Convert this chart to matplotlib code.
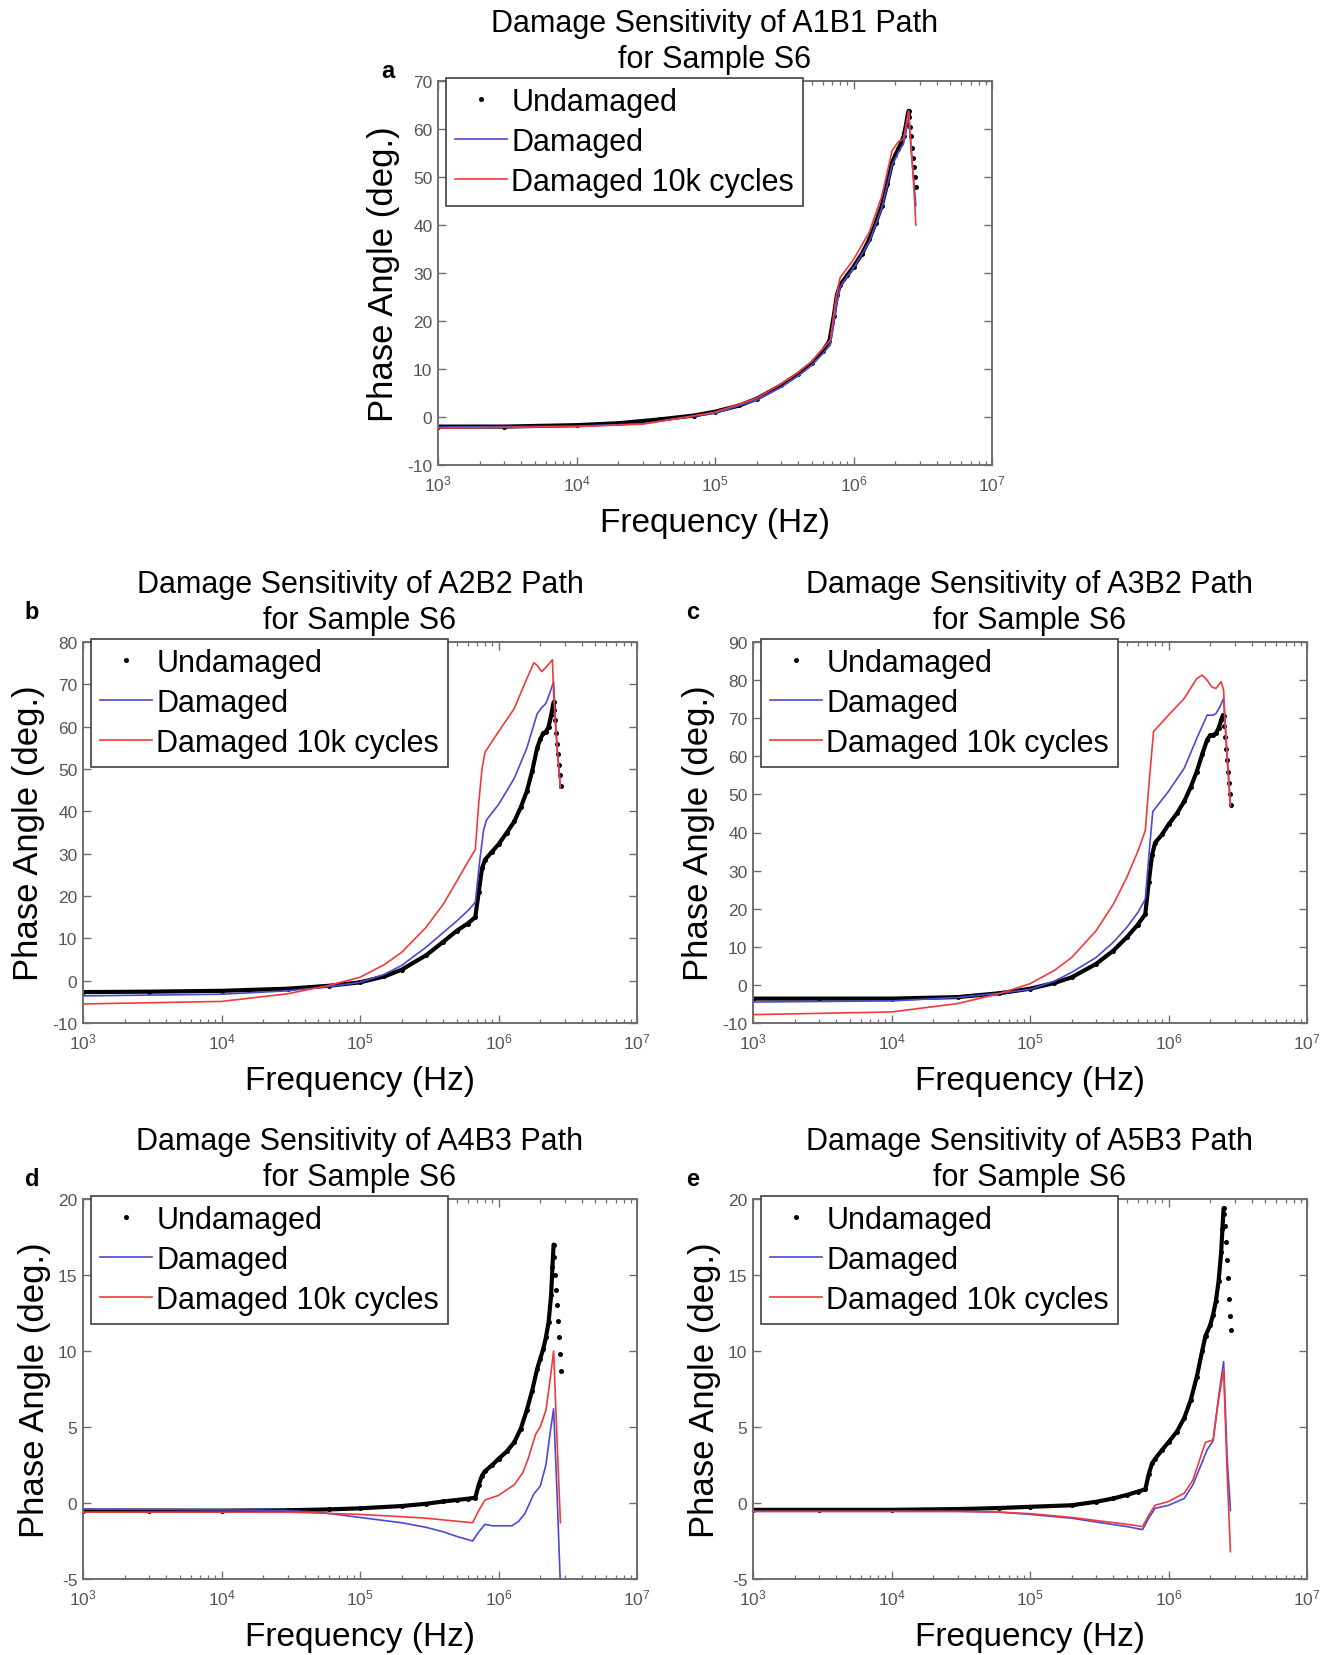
import numpy as np
import matplotlib
matplotlib.use('Agg')
import matplotlib.pyplot as plt
from matplotlib.ticker import LogLocator, MultipleLocator, NullFormatter

plt.rcParams['font.family'] = ['Liberation Sans', 'DejaVu Sans']
plt.rcParams['mathtext.fontset'] = 'custom'
plt.rcParams['mathtext.rm'] = 'Liberation Sans'
plt.rcParams['mathtext.default'] = 'regular'
plt.rcParams['axes.unicode_minus'] = False

# ---------------- data ----------------
# Panel a : A1B1
a_f_und = [1e3, 3e3, 1e4, 2e4, 4e4, 7e4, 1e5, 1.5e5, 2e5, 3e5, 4e5, 5e5, 6e5, 6.7e5, 7.2e5,
           7.6e5, 8e5, 9e5, 1e6, 1.15e6, 1.3e6, 1.45e6, 1.6e6, 1.75e6, 1.9e6, 2.0e6, 2.1e6,
           2.2e6, 2.3e6, 2.4e6, 2.47e6, 2.5e6, 2.53e6, 2.57e6, 2.61e6, 2.65e6, 2.69e6, 2.73e6,
           2.77e6, 2.81e6]
a_p_und = [-2.0, -2.0, -1.7, -1.3, -0.5, 0.3, 1.1, 2.4, 3.8, 6.6, 9.0, 11.2, 13.8, 15.8, 21.0,
           25.5, 27.5, 29.5, 31.3, 34.0, 37.0, 40.5, 44.0, 48.5, 53.0, 54.5, 55.8,
           57.0, 58.5, 61.0, 63.2, 63.8, 62.5, 60.5, 58.5, 56.0, 54.0, 52.0, 50.0, 48.0]
a_f_dam = [1e3, 1e4, 3e4, 1e5, 2e5, 3e5, 4e5, 5e5, 6e5, 6.8e5, 7.5e5, 8e5, 9e5, 1e6, 1.3e6,
           1.6e6, 1.9e6, 2.1e6, 2.3e6, 2.4e6, 2.5e6, 2.6e6, 2.7e6, 2.82e6]
a_p_dam = [-2.1, -1.9, -1.4, 0.8, 3.5, 6.2, 8.6, 10.8, 13.2, 15.0, 23.0, 27.0, 29.3, 31.0, 36.5,
           43.5, 52.5, 55.0, 57.0, 60.0, 63.5, 56.0, 50.5, 44.0]
a_f_10k = [1e3, 1e4, 3e4, 1e5, 2e5, 3e5, 4e5, 5e5, 6e5, 6.8e5, 7.5e5, 8e5, 9e5, 1e6, 1.3e6,
           1.6e6, 1.9e6, 2.1e6, 2.3e6, 2.4e6, 2.5e6, 2.6e6, 2.7e6, 2.82e6]
a_p_10k = [-2.3, -2.0, -1.5, 1.0, 3.9, 6.9, 9.3, 11.6, 14.2, 16.0, 25.0, 29.0, 31.0, 32.8, 38.5,
           46.0, 55.5, 57.3, 58.0, 61.0, 63.8, 57.0, 50.0, 40.0]

# Panel b : A2B2
b_f_und = [1e3, 3e3, 1e4, 3e4, 6e4, 1e5, 1.5e5, 2e5, 3e5, 4e5, 5e5, 6e5, 6.8e5, 7.2e5, 7.6e5,
           8e5, 9e5, 1e6, 1.15e6, 1.3e6, 1.45e6, 1.6e6, 1.75e6, 1.9e6, 2.0e6, 2.1e6, 2.2e6,
           2.3e6, 2.4e6, 2.47e6, 2.5e6, 2.53e6, 2.57e6, 2.61e6, 2.65e6, 2.69e6, 2.73e6,
           2.77e6, 2.81e6]
b_p_und = [-2.7, -2.6, -2.4, -1.9, -1.2, -0.4, 1.0, 2.6, 6.0, 9.2, 11.8, 13.5, 15.0, 21.0, 26.5,
           28.6, 30.5, 32.2, 35.0, 37.6, 41.0, 44.7, 49.5, 54.9, 57.0, 58.4, 58.8,
           60.0, 62.7, 65.0, 65.8, 64.0, 61.5, 58.5, 56.0, 53.5, 51.0, 48.5, 46.0]
b_f_dam = [1e3, 1e4, 3e4, 6e4, 1e5, 1.5e5, 2e5, 3e5, 4e5, 5e5, 6e5, 6.8e5, 7.3e5, 7.8e5, 8.2e5,
           1e6, 1.3e6, 1.6e6, 1.9e6, 2.05e6, 2.2e6, 2.35e6, 2.5e6, 2.56e6, 2.65e6, 2.8e6]
b_p_dam = [-3.6, -3.2, -2.4, -1.4, -0.4, 1.5, 3.6, 7.9, 11.4, 14.1, 16.5, 18.5, 28.0, 35.5, 38.0,
           41.6, 47.8, 54.9, 63.0, 64.5, 65.5, 68.0, 70.6, 63.0, 55.0, 45.5]
b_f_10k = [1e3, 1e4, 3e4, 6e4, 1e5, 1.5e5, 2e5, 3e5, 4e5, 5e5, 6e5, 6.8e5, 7.2e5, 7.6e5, 8e5,
           1e6, 1.3e6, 1.6e6, 1.8e6, 1.9e6, 2.05e6, 2.2e6, 2.45e6, 2.5e6, 2.55e6, 2.65e6, 2.8e6]
b_p_10k = [-5.5, -4.9, -3.1, -1.1, 0.8, 3.8, 6.7, 12.6, 18.1, 23.5, 28.0, 31.0, 42.0, 50.0, 54.0,
           58.8, 64.3, 71.3, 75.1, 74.5, 73.0, 74.0, 75.8, 68.0, 63.0, 55.0, 45.5]

# Panel c : A3B2
c_f_und = [1e3, 3e3, 1e4, 3e4, 6e4, 1e5, 1.5e5, 2e5, 3e5, 4e5, 5e5, 6e5, 6.8e5, 7.2e5, 7.6e5,
           8e5, 9e5, 1e6, 1.15e6, 1.3e6, 1.45e6, 1.6e6, 1.75e6, 1.9e6, 2.0e6, 2.1e6, 2.2e6,
           2.3e6, 2.4e6, 2.47e6, 2.5e6, 2.53e6, 2.57e6, 2.61e6, 2.65e6, 2.69e6, 2.73e6,
           2.77e6, 2.81e6]
c_p_und = [-3.6, -3.6, -3.6, -3.2, -2.2, -1.0, 0.5, 2.0, 5.5, 9.0, 12.5, 15.8, 18.6, 27.0, 34.0,
           37.3, 39.5, 42.1, 45.0, 48.2, 52.0, 56.0, 60.5, 64.3, 65.5, 65.6, 66.0,
           67.4, 69.5, 70.8, 70.5, 68.0, 65.0, 62.0, 59.0, 56.0, 53.0, 50.0, 47.3]
c_f_dam = [1e3, 1e4, 3e4, 6e4, 1e5, 1.5e5, 2e5, 3e5, 4e5, 5e5, 6e5, 6.8e5, 7.3e5, 7.7e5, 1e6,
           1.3e6, 1.6e6, 1.9e6, 2.1e6, 2.2e6, 2.35e6, 2.5e6, 2.55e6, 2.65e6, 2.8e6]
c_p_dam = [-4.5, -4.2, -3.3, -2.2, -1.2, 1.0, 3.3, 7.2, 11.2, 15.1, 19.0, 22.5, 36.0, 45.5, 50.8,
           56.9, 64.7, 70.8, 70.8, 71.2, 73.0, 75.2, 70.0, 60.0, 47.0]
c_f_10k = [1e3, 1e4, 3e4, 6e4, 1e5, 1.5e5, 2e5, 3e5, 4e5, 5e5, 6e5, 6.8e5, 7.2e5, 7.8e5, 1e6,
           1.3e6, 1.6e6, 1.75e6, 1.9e6, 2.05e6, 2.2e6, 2.4e6, 2.5e6, 2.55e6, 2.65e6, 2.8e6]
c_p_10k = [-7.8, -7.1, -4.9, -2.3, 0.3, 3.8, 7.2, 14.2, 21.2, 28.2, 35.0, 40.5, 52.0, 66.5, 70.8,
           75.2, 80.4, 81.3, 80.0, 78.2, 77.8, 79.6, 77.4, 70.0, 60.0, 47.0]

# Panel d : A4B3
d_f_und = [1e3, 3e3, 1e4, 3e4, 6e4, 1e5, 2e5, 3e5, 4e5, 5e5, 6e5, 6.8e5, 7.2e5, 7.6e5, 8e5,
           9e5, 1e6, 1.15e6, 1.3e6, 1.45e6, 1.6e6, 1.75e6, 1.9e6, 2.0e6, 2.1e6, 2.2e6, 2.3e6,
           2.4e6, 2.45e6, 2.5e6, 2.53e6, 2.57e6, 2.61e6, 2.65e6, 2.69e6, 2.73e6, 2.77e6, 2.81e6]
d_p_und = [-0.5, -0.5, -0.5, -0.48, -0.42, -0.35, -0.2, -0.05, 0.1, 0.2, 0.28, 0.35, 1.2, 1.8, 2.1,
           2.5, 2.9, 3.4, 4.0, 4.9, 6.1, 7.4, 8.8, 9.5, 10.1, 10.9, 11.9,
           13.7, 15.5, 17.0, 16.2, 15.0, 14.0, 13.0, 12.0, 10.9, 9.8, 8.7]
d_f_dam = [1e3, 1e4, 3e4, 5e4, 1e5, 2e5, 3e5, 4e5, 5e5, 6.5e5, 7.2e5, 8e5, 9e5, 1.25e6, 1.4e6,
           1.55e6, 1.8e6, 2.0e6, 2.2e6, 2.35e6, 2.5e6, 2.65e6, 2.8e6]
d_p_dam = [-0.4, -0.45, -0.5, -0.6, -0.95, -1.3, -1.6, -1.9, -2.2, -2.5, -1.9, -1.4, -1.5, -1.5, -1.2,
           -0.7, 0.6, 1.1, 2.5, 4.5, 6.2, 0.5, -5.5]
d_f_10k = [1e3, 1e4, 3e4, 1e5, 2e5, 3e5, 5e5, 6.5e5, 7.2e5, 8e5, 1e6, 1.3e6, 1.5e6, 1.65e6, 1.85e6,
           2.0e6, 2.2e6, 2.35e6, 2.5e6, 2.65e6, 2.8e6]
d_p_10k = [-0.6, -0.6, -0.6, -0.75, -0.9, -1.0, -1.2, -1.3, -0.5, 0.2, 0.5, 1.2, 2.0, 3.0, 4.5,
           5.0, 6.1, 8.0, 10.0, 4.0, -1.3]

# Panel e : A5B3
e_f_und = [1e3, 3e3, 1e4, 3e4, 6e4, 1e5, 2e5, 3e5, 4e5, 5e5, 6e5, 6.8e5, 7.2e5, 7.6e5, 8e5,
           9e5, 1e6, 1.15e6, 1.3e6, 1.45e6, 1.6e6, 1.75e6, 1.85e6, 2.0e6, 2.1e6, 2.2e6, 2.3e6,
           2.4e6, 2.45e6, 2.5e6, 2.53e6, 2.57e6, 2.61e6, 2.65e6, 2.69e6, 2.73e6, 2.77e6, 2.81e6]
e_p_und = [-0.45, -0.45, -0.45, -0.4, -0.33, -0.25, -0.15, 0.08, 0.3, 0.53, 0.75, 0.9, 1.9, 2.6, 2.9,
           3.5, 4.0, 4.7, 5.6, 6.8, 8.3, 10.0, 11.0, 11.7, 12.4, 13.3, 14.6,
           16.5, 18.0, 19.4, 19.0, 18.2, 17.2, 16.0, 14.8, 13.4, 12.3, 11.4]
e_f_dam = [1e3, 1e4, 3e4, 6e4, 1e5, 2e5, 3e5, 5e5, 6.5e5, 7.2e5, 8e5, 1e6, 1.3e6, 1.5e6, 1.7e6,
           1.9e6, 2.1e6, 2.3e6, 2.5e6, 2.65e6, 2.8e6]
e_p_dam = [-0.55, -0.55, -0.55, -0.6, -0.75, -1.0, -1.25, -1.55, -1.75, -1.0, -0.35, -0.15, 0.3, 1.2, 2.4,
           3.5, 4.1, 7.0, 9.3, 3.0, -0.5]
e_f_10k = [1e3, 1e4, 3e4, 6e4, 1e5, 2e5, 3e5, 5e5, 6.5e5, 7.2e5, 8e5, 1e6, 1.3e6, 1.5e6, 1.7e6,
           1.85e6, 2.1e6, 2.3e6, 2.5e6, 2.65e6, 2.8e6]
e_p_10k = [-0.55, -0.55, -0.55, -0.6, -0.7, -0.95, -1.15, -1.4, -1.55, -0.8, -0.15, 0.1, 0.65, 1.5, 3.0,
           4.0, 4.15, 6.8, 8.8, 2.0, -3.2]

panel_letters = ['a', 'b', 'c', 'd', 'e']
panel_paths = ['A1B1', 'A2B2', 'A3B2', 'A4B3', 'A5B3']
panel_ylims = [(-10, 70), (-10, 80), (-10, 90), (-5, 20), (-5, 20)]
panel_ysteps = [10, 10, 10, 5, 5]
series_labels = ['Undamaged', 'Damaged', 'Damaged 10k cycles']

# ---------------- figure ----------------
W, H = 1332, 1656
fig = plt.figure(figsize=(W / 100, H / 100), dpi=100)

def rect(l, t, r, b):
    return [l / W, 1 - b / H, (r - l) / W, (b - t) / H]

rects = [rect(438, 82, 992, 466), rect(83, 643, 637, 1024), rect(753, 643, 1307, 1024),
         rect(83, 1200, 637, 1580), rect(753, 1200, 1307, 1580)]
letter_pos = [(388, 78), (32, 619), (693, 619), (32, 1186), (693, 1186)]

data = [
    (a_f_und, a_p_und, a_f_dam, a_p_dam, a_f_10k, a_p_10k),
    (b_f_und, b_p_und, b_f_dam, b_p_dam, b_f_10k, b_p_10k),
    (c_f_und, c_p_und, c_f_dam, c_p_dam, c_f_10k, c_p_10k),
    (d_f_und, d_p_und, d_f_dam, d_p_dam, d_f_10k, d_p_10k),
    (e_f_und, e_p_und, e_f_dam, e_p_dam, e_f_10k, e_p_10k),
]

BLUE = '#4a4ad4'
RED = '#f23a3a'
GRAY = '#6e6e6e'

for i in range(5):
    ax = fig.add_axes(rects[i])
    fu, pu, fd, pd_, fr, pr = [np.asarray(v, dtype=float) for v in data[i]]
    k = int(np.argmax(pu))
    ax.plot(fu[:k + 1], pu[:k + 1], color='k', lw=3.0, solid_capstyle='round', zorder=2)
    hu, = ax.plot(fu, pu, ls='none', marker='o', ms=3.6, mew=0, color='k', zorder=2)
    hd, = ax.plot(fd, pd_, color=BLUE, lw=1.2, zorder=3)
    hr, = ax.plot(fr, pr, color=RED, lw=1.2, zorder=4)

    ax.set_xscale('log')
    ax.set_xlim(1e3, 1e7)
    ax.set_ylim(*panel_ylims[i])
    ax.yaxis.set_major_locator(MultipleLocator(panel_ysteps[i]))
    ax.xaxis.set_major_locator(LogLocator(base=10, numticks=10))
    ax.xaxis.set_minor_locator(LogLocator(base=10, subs=np.arange(2, 10), numticks=20))
    ax.xaxis.set_minor_formatter(NullFormatter())
    ax.tick_params(which='both', direction='in', top=True, right=True,
                   color=GRAY, labelcolor='#555555', labelsize=12.5)
    ax.tick_params(which='major', length=6, width=1.0)
    ax.tick_params(which='minor', length=3, width=0.9)
    ax.tick_params(axis='y', pad=4)
    ax.tick_params(axis='x', pad=6)
    for s in ax.spines.values():
        s.set_color(GRAY)
        s.set_linewidth(1.4)

    ax.set_title('Damage Sensitivity of %s Path\nfor Sample S6' % panel_paths[i],
                 fontsize=22, pad=10, linespacing=1.25)
    ax.set_xlabel('Frequency (Hz)', fontsize=24, labelpad=10)
    ax.set_ylabel('Phase Angle (deg.)', fontsize=25, labelpad=5)

    leg = ax.legend([hu, hd, hr], series_labels, loc='upper left',
                    bbox_to_anchor=(0.014, 1.009), borderaxespad=0, fontsize=22,
                    fancybox=False, framealpha=1, edgecolor='#404040',
                    handlelength=1.7, handletextpad=0.15, labelspacing=0.33,
                    borderpad=0.3)
    leg.get_frame().set_linewidth(1.2)
    leg.set_zorder(10)

    lx, ly = letter_pos[i]
    fig.text(lx / W, 1 - ly / H, panel_letters[i], fontsize=17, fontweight='bold',
             ha='center', va='baseline')

fig.savefig('out.png', dpi=100, facecolor='white')
